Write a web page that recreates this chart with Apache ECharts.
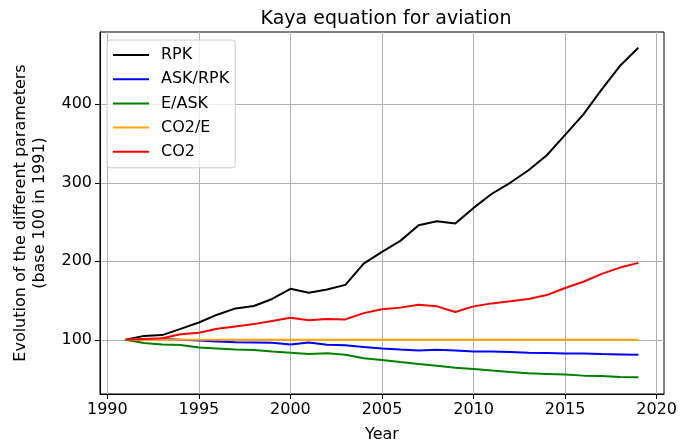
<!DOCTYPE html>
<html>
<head>
<meta charset="utf-8">
<script src="https://cdn.jsdelivr.net/npm/echarts@6/dist/echarts.min.js"></script>
<style>
  html, body { margin: 0; padding: 0; background: #fff; }
  #chart { width: 692px; height: 448px; }
</style>
</head>
<body>
<div id="chart"></div>
<script>
// années 1991-2019, base 100 en 1991
const years = [1991, 1992, 1993, 1994, 1995, 1996, 1997, 1998, 1999, 2000,
  2001, 2002, 2003, 2004, 2005, 2006, 2007, 2008, 2009, 2010,
  2011, 2012, 2013, 2014, 2015, 2016, 2017, 2018, 2019]

const rpk = [100, 105, 106, 114, 122, 132, 140, 143, 152, 165,
  160, 164, 170, 197, 212, 226, 246, 251, 248, 268,
  286, 300, 316, 335, 361, 387, 419, 449, 472]

const askRpk = [100, 101, 101, 100, 99, 98, 97, 96.6, 96.2, 94,
  96.6, 93.7, 93.2, 90.8, 89, 87.7, 86.5, 87.3, 86.5, 85.2,
  85.2, 84.4, 83.5, 83.1, 82.7, 82.7, 81.8, 81.4, 81]

const eAsk = [100, 96, 94, 93.3, 90.3, 89, 87.7, 87, 85.2, 83.5,
  81.8, 83, 81, 76.4, 74.3, 71.7, 69.2, 67, 64.5, 62.9,
  60.8, 59, 57.3, 56.5, 55.7, 54.4, 54, 52.8, 52.3]

const co2E = [100, 100, 100, 100, 100, 100, 100, 100, 100, 100,
  100, 100, 100, 100, 100, 100, 100, 100, 100, 100,
  100, 100, 100, 100, 100, 100, 100, 100, 100]

const co2 = [100, 101, 102, 107, 109, 114, 117, 120, 124, 128,
  125, 126.6, 126, 134, 139, 141, 144.7, 142.6, 135.4, 142.6,
  146.4, 149, 152, 157, 166, 174, 184, 192, 198]

const xTicks = [1990, 1995, 2000, 2005, 2010, 2015, 2020]
const yTicks = [100, 200, 300, 400]

const font = 'DejaVu Sans'

const makeSeries = (name, values, color) => ({
  name,
  type: 'line',
  data: years.map((y, i) => [y, values[i]]),
  symbol: 'none',
  lineStyle: { color, width: 2 },
  itemStyle: { color },
  animation: false
})

const chart = echarts.init(document.getElementById('chart'))

chart.setOption({
  animation: false,
  title: {
    text: 'Kaya equation for aviation',
    left: 381,
    top: 5,
    textAlign: 'center',
    textStyle: { fontFamily: font, fontSize: 19, fontWeight: 'normal', color: '#000' }
  },
  legend: {
    orient: 'vertical',
    left: 107,
    top: 40,
    icon: 'path://M0,0H36V2H0Z',
    itemWidth: 36,
    itemHeight: 16,
    itemGap: 8.2,
    padding: [7, 6, 8, 6],
    backgroundColor: 'rgba(255,255,255,0.8)',
    borderColor: '#cccccc',
    borderWidth: 1,
    borderRadius: 3,
    textStyle: { fontFamily: font, fontSize: 16, color: '#000', padding: [0, 0, 0, 7] },
    data: ['RPK', 'ASK/RPK', 'E/ASK', 'CO2/E', 'CO2']
  },
  grid: {
    left: 100,
    right: 28,
    top: 32,
    bottom: 52,
    show: true,
    borderColor: '#000',
    borderWidth: 1
  },
  xAxis: {
    type: 'value',
    min: 1989.6,
    max: 2020.4,
    name: 'Year',
    nameLocation: 'middle',
    nameGap: 33,
    nameTextStyle: { fontFamily: font, fontSize: 16, color: '#000' },
    axisLine: { show: true, lineStyle: { color: '#000' } },
    axisTick: { show: true, length: 5, customValues: xTicks, lineStyle: { color: '#000' } },
    axisLabel: {
      customValues: xTicks,
      formatter: v => String(v),
      fontFamily: font, fontSize: 16, color: '#000', margin: 8
    },
    splitLine: { show: true, lineStyle: { color: '#b0b0b0', width: 1 } }
  },
  yAxis: {
    type: 'value',
    min: 31,
    max: 492,
    name: 'Evolution of the different parameters\n(base 100 in 1991)',
    nameLocation: 'middle',
    nameRotate: 90,
    nameGap: 51,
    nameTextStyle: { fontFamily: font, fontSize: 16, color: '#000', lineHeight: 18.5 },
    axisLine: { show: true, lineStyle: { color: '#000' } },
    axisTick: { show: true, length: 5, customValues: yTicks, lineStyle: { color: '#000' } },
    axisLabel: { customValues: yTicks, fontFamily: font, fontSize: 16, color: '#000', margin: 8 },
    splitLine: { show: true, lineStyle: { color: '#b0b0b0', width: 1 } }
  },
  series: [
    makeSeries('RPK', rpk, '#000000'),
    makeSeries('ASK/RPK', askRpk, '#0000ff'),
    makeSeries('E/ASK', eAsk, '#008000'),
    makeSeries('CO2/E', co2E, '#ffa500'),
    makeSeries('CO2', co2, '#ff0000')
  ]
})
</script>
</body>
</html>
